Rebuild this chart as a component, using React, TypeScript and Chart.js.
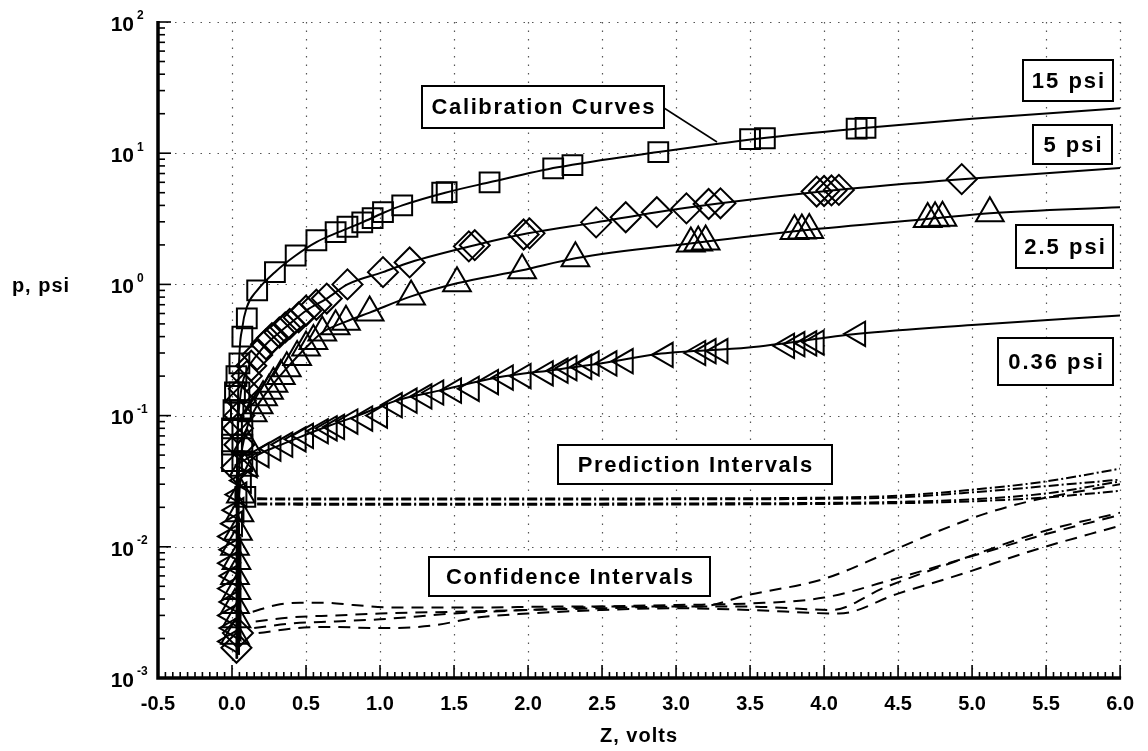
import React, { useEffect, useRef } from "react";
import { Chart, registerables } from "chart.js";
Chart.register(...registerables);

// ---------- axis definitions ----------
const X_MIN = -0.5;
const X_MAX = 6.0;
const X_GRID = [0, 0.5, 1, 1.5, 2, 2.5, 3, 3.5, 4, 4.5, 5, 5.5, 6];
const Y_DECADES = [-3, -2, -1, 0, 1, 2];
const Y_EXP_LABELS = ["-3", "-2", "-1", "0", "1", "2"];

// ---------- calibration curves (solid) ----------
const cal15Z = [0.035, 0.037, 0.045, 0.07, 0.1, 0.17, 0.29, 0.43, 0.57, 0.72, 0.88, 1.02, 1.15, 1.44, 1.74, 2.2, 2.88, 3.55, 4.25, 5.0, 6.0];
const cal15P = [0.0014, 0.03, 0.2, 0.47, 0.67, 0.9, 1.24, 1.66, 2.1, 2.5, 2.97, 3.5, 4.0, 5.0, 6.0, 7.8, 10.2, 12.9, 15.5, 18.3, 22.0];
const cal5Z = [0.03, 0.032, 0.04, 0.06, 0.1, 0.17, 0.23, 0.32, 0.39, 0.5, 0.64, 0.78, 1.02, 1.2, 1.64, 2.0, 2.46, 2.87, 3.3, 4.05, 4.93, 6.0];
const cal5P = [0.0014, 0.02, 0.08, 0.15, 0.22, 0.29, 0.35, 0.43, 0.5, 0.63, 0.78, 1.0, 1.24, 1.47, 1.99, 2.45, 2.97, 3.55, 4.15, 5.2, 6.34, 7.7];
const cal25Z = [0.035, 0.04, 0.06, 0.1, 0.14, 0.21, 0.28, 0.37, 0.5, 0.61, 0.77, 0.93, 1.21, 1.52, 1.96, 2.32, 3.15, 3.85, 4.75, 5.12, 6.0];
const cal25P = [0.0016, 0.02, 0.05, 0.08, 0.104, 0.138, 0.175, 0.23, 0.33, 0.43, 0.52, 0.61, 0.81, 1.02, 1.28, 1.58, 2.09, 2.58, 3.19, 3.48, 3.87];
const cal036Z = [0.04, 0.045, 0.07, 0.12, 0.2, 0.3, 0.45, 0.66, 0.85, 1.11, 1.4, 1.79, 2.2, 2.53, 2.9, 3.49, 4.23, 5.0, 6.0];
const cal036P = [0.0015, 0.02, 0.035, 0.045, 0.052, 0.058, 0.068, 0.084, 0.1, 0.13, 0.155, 0.195, 0.225, 0.254, 0.297, 0.33, 0.42, 0.49, 0.58];

// ---------- measured points (markers) ----------
const sqZ = [0.0, 0.07, 0.0, 0.07, 0.0, 0.07, 0.01, 0.06, 0.02, 0.05, 0.03, 0.05, 0.07, 0.09, 0.1, 0.17, 0.29, 0.43, 0.57, 0.7, 0.78, 0.88, 0.95, 1.02, 1.15, 1.42, 1.45, 1.74, 2.17, 2.3, 2.88, 3.5, 3.6, 4.22, 4.28];
const sqP = [0.045, 0.045, 0.06, 0.06, 0.08, 0.08, 0.11, 0.11, 0.15, 0.15, 0.2, 0.25, 0.4, 0.024, 0.55, 0.9, 1.24, 1.66, 2.17, 2.5, 2.75, 2.97, 3.2, 3.55, 4.0, 5.0, 5.05, 6.0, 7.67, 8.1, 10.2, 12.8, 13.0, 15.4, 15.6];
const diaZ = [0.03, 0.04, 0.03, 0.05, 0.04, 0.05, 0.06, 0.08, 0.1, 0.13, 0.17, 0.23, 0.27, 0.32, 0.36, 0.39, 0.45, 0.5, 0.57, 0.64, 0.78, 1.02, 1.2, 1.6, 1.64, 1.97, 2.01, 2.46, 2.66, 2.87, 3.07, 3.22, 3.3, 3.95, 4.0, 4.05, 4.1, 4.93];
const diaP = [0.0017, 0.0022, 0.04, 0.06, 0.08, 0.1, 0.13, 0.16, 0.2, 0.24, 0.29, 0.35, 0.39, 0.43, 0.47, 0.5, 0.56, 0.63, 0.7, 0.78, 1.0, 1.24, 1.47, 1.95, 1.99, 2.4, 2.45, 2.97, 3.25, 3.55, 3.8, 4.1, 4.15, 5.1, 5.15, 5.2, 5.25, 6.34];
const triZ = [0.02, 0.03, 0.02, 0.03, 0.02, 0.03, 0.02, 0.04, 0.05, 0.06, 0.08, 0.1, 0.14, 0.18, 0.21, 0.25, 0.28, 0.33, 0.37, 0.44, 0.5, 0.55, 0.61, 0.7, 0.77, 0.93, 1.21, 1.52, 1.96, 2.32, 3.1, 3.15, 3.2, 3.8, 3.85, 3.9, 4.7, 4.75, 4.8, 5.12];
const triP = [0.0021, 0.0028, 0.0036, 0.0046, 0.006, 0.0078, 0.01, 0.013, 0.018, 0.025, 0.04, 0.06, 0.104, 0.12, 0.138, 0.155, 0.175, 0.2, 0.23, 0.28, 0.33, 0.37, 0.43, 0.48, 0.52, 0.61, 0.81, 1.02, 1.28, 1.58, 2.05, 2.09, 2.12, 2.55, 2.58, 2.6, 3.15, 3.19, 3.22, 3.48];
const ltriZ = [0.0, 0.01, 0.0, 0.01, 0.0, 0.01, 0.0, 0.01, 0.0, 0.02, 0.03, 0.05, 0.08, 0.12, 0.2, 0.28, 0.36, 0.45, 0.5, 0.6, 0.66, 0.71, 0.8, 0.9, 1.0, 1.1, 1.2, 1.3, 1.38, 1.5, 1.62, 1.75, 1.85, 1.97, 2.12, 2.22, 2.28, 2.38, 2.43, 2.55, 2.66, 2.93, 3.15, 3.22, 3.3, 3.75, 3.82, 3.9, 3.95, 4.23];
const ltriP = [0.0019, 0.0024, 0.003, 0.0038, 0.0048, 0.006, 0.0075, 0.0095, 0.012, 0.015, 0.019, 0.025, 0.032, 0.042, 0.05, 0.056, 0.06, 0.066, 0.07, 0.076, 0.08, 0.082, 0.09, 0.095, 0.1, 0.12, 0.13, 0.14, 0.15, 0.155, 0.16, 0.18, 0.195, 0.2, 0.21, 0.22, 0.23, 0.235, 0.25, 0.25, 0.26, 0.29, 0.3, 0.31, 0.31, 0.34, 0.35, 0.355, 0.36, 0.42];

// ---------- prediction intervals (dash-dot) ----------
const piZ = [0.17, 1, 2, 3, 4, 4.5, 5, 5.5, 6];
const pi1P = [0.0234, 0.0233, 0.0233, 0.0234, 0.0237, 0.0245, 0.0272, 0.0315, 0.0394];
const pi2P = [0.023, 0.0229, 0.0229, 0.023, 0.0232, 0.0238, 0.026, 0.029, 0.0325];
const pi3P = [0.0214, 0.0213, 0.0213, 0.0214, 0.0216, 0.022, 0.023, 0.0255, 0.0315];
const pi4P = [0.021, 0.0209, 0.0209, 0.021, 0.0212, 0.0215, 0.0222, 0.0238, 0.0267];

// ---------- confidence intervals (dashed) ----------
const ci1Z = [0.14, 0.3, 0.46, 0.64, 0.82, 1.08, 1.6, 2.2, 2.8, 3.15, 3.49, 4.0, 4.41, 4.73, 5.09, 5.4, 6.0];
const ci1P = [0.0032, 0.0036, 0.00375, 0.00374, 0.0036, 0.00345, 0.00344, 0.0035, 0.0035, 0.0035, 0.0043, 0.0057, 0.0088, 0.0126, 0.0179, 0.0224, 0.03];
const ci2Z = [0.16, 0.4, 0.7, 1.0, 1.5, 2.0, 2.5, 3.0, 3.5, 4.05, 4.41, 4.99, 5.49, 6.0];
const ci2P = [0.0027, 0.0029, 0.003, 0.0031, 0.0032, 0.0033, 0.0034, 0.0035, 0.0035, 0.0033, 0.0049, 0.0085, 0.0132, 0.0182];
const ci3Z = [0.18, 0.44, 0.66, 1.0, 1.34, 1.67, 2.0, 2.5, 3.0, 3.5, 4.1, 4.5, 4.95, 5.4, 6.0];
const ci3P = [0.0022, 0.0024, 0.00245, 0.0024, 0.0025, 0.0029, 0.0031, 0.0033, 0.0034, 0.0033, 0.0031, 0.0044, 0.0063, 0.0093, 0.0145];
const ci4Z = [0.15, 0.4, 0.7, 1.0, 1.5, 2.0, 2.5, 3.0, 3.5, 4.0, 4.5, 5.0, 5.5, 6.0];
const ci4P = [0.0024, 0.0026, 0.0027, 0.0028, 0.0031, 0.0033, 0.0035, 0.0036, 0.0037, 0.0041, 0.0058, 0.0085, 0.0125, 0.0175];

const FONT = '"Liberation Sans", Arial, Helvetica, sans-serif';

const pts = (xs: number[], ys: number[]) => xs.map((x, i) => ({ x, y: ys[i] }));

const markerDs = (label: string, xs: number[], ys: number[], style: string, radius: number, rotation = 0) => ({
  type: "scatter" as const,
  label,
  data: pts(xs, ys),
  pointStyle: style,
  pointRadius: radius,
  pointRotation: rotation,
  borderColor: "#000",
  backgroundColor: "rgba(0,0,0,0)",
  pointBorderWidth: 2,
  showLine: false,
  clip: false as any,
});

const lineDs = (label: string, xs: number[], ys: number[], dash: number[], width: number) => ({
  type: "line" as const,
  label,
  data: pts(xs, ys),
  borderColor: "#000",
  backgroundColor: "rgba(0,0,0,0)",
  borderWidth: width,
  borderDash: dash,
  pointRadius: 0,
  fill: false,
  showLine: true,
  cubicInterpolationMode: "monotone" as const,
});

function drawBox(ctx: CanvasRenderingContext2D, text: string, x: number, y: number, w: number, h: number, size: number, spacing: number) {
  ctx.save();
  ctx.fillStyle = "#fff";
  ctx.fillRect(x, y, w, h);
  ctx.strokeStyle = "#000";
  ctx.lineWidth = 2;
  ctx.setLineDash([]);
  ctx.strokeRect(x, y, w, h);
  ctx.fillStyle = "#000";
  ctx.font = `bold ${size}px ${FONT}`;
  (ctx as any).letterSpacing = `${spacing}px`;
  ctx.textAlign = "center";
  ctx.textBaseline = "middle";
  ctx.fillText(text, x + w / 2 + spacing / 2, y + h / 2 + 1);
  ctx.restore();
}

const decor = {
  id: "decor",
  beforeDatasetsDraw(chart: any) {
    const { ctx, chartArea: a, scales } = chart;
    const xs = scales.x;
    const ys = scales.y;
    ctx.save();
    ctx.strokeStyle = "#555";
    ctx.lineWidth = 1.2;
    ctx.setLineDash([1.5, 7]);
    for (const v of X_GRID) {
      const px = Math.round(xs.getPixelForValue(v)) + 0.5;
      ctx.beginPath();
      ctx.moveTo(px, a.top);
      ctx.lineTo(px, a.bottom);
      ctx.stroke();
    }
    for (const d of Y_DECADES) {
      if (d === -3) continue;
      const py = Math.round(ys.getPixelForValue(Math.pow(10, d))) + 0.5;
      ctx.beginPath();
      ctx.moveTo(a.left, py);
      ctx.lineTo(a.right, py);
      ctx.stroke();
    }
    ctx.restore();
  },
  afterDatasetsDraw(chart: any) {
    const { ctx, chartArea: a, scales } = chart;
    const xs = scales.x;
    const ys = scales.y;
    ctx.save();
    ctx.setLineDash([]);
    ctx.strokeStyle = "#000";
    // ticks on y
    ctx.lineWidth = 1.6;
    for (let i = 0; i < Y_DECADES.length; i++) {
      const d = Y_DECADES[i];
      const py = ys.getPixelForValue(Math.pow(10, d));
      ctx.beginPath();
      ctx.moveTo(a.left, py);
      ctx.lineTo(a.left + 13, py);
      ctx.stroke();
      if (d < 2) {
        for (let m = 2; m <= 9; m++) {
          const pm = ys.getPixelForValue(m * Math.pow(10, d));
          ctx.beginPath();
          ctx.moveTo(a.left, pm);
          ctx.lineTo(a.left + 7, pm);
          ctx.stroke();
        }
      }
    }
    // ticks on x
    const nMinor = Math.round((X_MAX - X_MIN) / 0.05);
    for (let k = 0; k <= nMinor; k++) {
      const v = X_MIN + k * 0.05;
      const major = k % 10 === 0;
      const px = xs.getPixelForValue(v);
      ctx.beginPath();
      ctx.moveTo(px, a.bottom);
      ctx.lineTo(px, a.bottom - (major ? 13 : 6));
      ctx.stroke();
    }
    // axis lines
    ctx.lineWidth = 3.5;
    ctx.beginPath();
    ctx.moveTo(a.left, a.top - 1);
    ctx.lineTo(a.left, a.bottom);
    ctx.lineTo(a.right + 1, a.bottom);
    ctx.stroke();

    // y tick labels 10^n
    ctx.fillStyle = "#000";
    for (let i = 0; i < Y_DECADES.length; i++) {
      const py = ys.getPixelForValue(Math.pow(10, Y_DECADES[i]));
      ctx.font = `bold 21px ${FONT}`;
      ctx.textAlign = "right";
      ctx.textBaseline = "middle";
      ctx.fillText("10", 134, py + 3);
      ctx.font = `bold 12px ${FONT}`;
      ctx.textAlign = "left";
      ctx.fillText(Y_EXP_LABELS[i], 137, py - 6);
    }

    // axis titles
    ctx.font = `bold 20px ${FONT}`;
    (ctx as any).letterSpacing = "1px";
    ctx.textAlign = "center";
    ctx.textBaseline = "middle";
    ctx.fillText("p, psi", 41, ys.getPixelForValue(1) + 2);
    ctx.fillText("Z, volts", (a.left + a.right) / 2, 736);
    (ctx as any).letterSpacing = "0px";

    // leader line for Calibration Curves
    ctx.lineWidth = 1.5;
    ctx.beginPath();
    ctx.moveTo(664, 108);
    ctx.lineTo(717, 142);
    ctx.stroke();
    ctx.restore();

    drawBox(ctx, "Calibration Curves", 422, 86, 242, 42, 22, 1.6);
    drawBox(ctx, "15 psi", 1023, 60, 90, 41, 22, 2);
    drawBox(ctx, "5 psi", 1033, 125, 79, 39, 22, 2);
    drawBox(ctx, "2.5 psi", 1016, 225, 97, 43, 22, 2);
    drawBox(ctx, "0.36 psi", 998, 338, 115, 47, 22, 2);
    drawBox(ctx, "Prediction Intervals", 558, 445, 274, 39, 22, 1.6);
    drawBox(ctx, "Confidence Intervals", 429, 557, 281, 39, 22, 1.6);
  },
};

export default function App() {
  const ref = useRef<HTMLCanvasElement | null>(null);
  useEffect(() => {
    if (!ref.current) return;
    const datasets: any[] = [
      markerDs("15 psi data", sqZ, sqP, "rect", 14),
      markerDs("5 psi data", diaZ, diaP, "rectRot", 15),
      markerDs("2.5 psi data", triZ, triP, "triangle", 16),
      markerDs("0.36 psi data", ltriZ, ltriP, "triangle", 14, -90),
      lineDs("15 psi", cal15Z, cal15P, [], 2),
      lineDs("5 psi", cal5Z, cal5P, [], 2),
      lineDs("2.5 psi", cal25Z, cal25P, [], 2),
      lineDs("0.36 psi", cal036Z, cal036P, [], 2),
      lineDs("PI 1", piZ, pi1P, [10, 3, 2, 3], 2),
      lineDs("PI 2", piZ, pi2P, [10, 3, 2, 3], 2),
      lineDs("PI 3", piZ, pi3P, [10, 3, 2, 3], 2),
      lineDs("PI 4", piZ, pi4P, [10, 3, 2, 3], 2),
      lineDs("CI 1", ci1Z, ci1P, [12, 8], 2),
      lineDs("CI 2", ci2Z, ci2P, [12, 8], 2),
      lineDs("CI 3", ci3Z, ci3P, [12, 8], 2),
      lineDs("CI 4", ci4Z, ci4P, [12, 8], 2),
    ];
    const chart = new Chart(ref.current, {
      type: "scatter",
      data: { datasets },
      options: {
        animation: false,
        responsive: false,
        maintainAspectRatio: false,
        layout: { padding: { top: 22, right: 26, left: 0, bottom: 0 } },
        plugins: { legend: { display: false }, tooltip: { enabled: false } },
        scales: {
          x: {
            type: "linear",
            min: X_MIN,
            max: X_MAX,
            grid: { display: false, drawTicks: false },
            border: { display: false },
            ticks: {
              stepSize: 0.5,
              autoSkip: false,
              maxRotation: 0,
              padding: 14,
              color: "#000",
              font: { family: FONT, size: 20, weight: "bold" },
              callback: (v: any) => Number(v).toFixed(1),
            },
            afterFit: (s: any) => {
              s.height = 73;
            },
          },
          y: {
            type: "logarithmic",
            min: 0.001,
            max: 100,
            grid: { display: false, drawTicks: false },
            border: { display: false },
            ticks: { display: false },
            afterFit: (s: any) => {
              s.width = 158;
            },
          },
        },
      } as any,
      plugins: [decor],
    });
    return () => chart.destroy();
  }, []);
  return (
    <div style={{ position: "absolute", left: 0, top: 0, width: 1148, height: 751, background: "#fff" }}>
      <canvas ref={ref} width={1148} height={751} style={{ width: 1148, height: 751, display: "block" }} />
    </div>
  );
}
